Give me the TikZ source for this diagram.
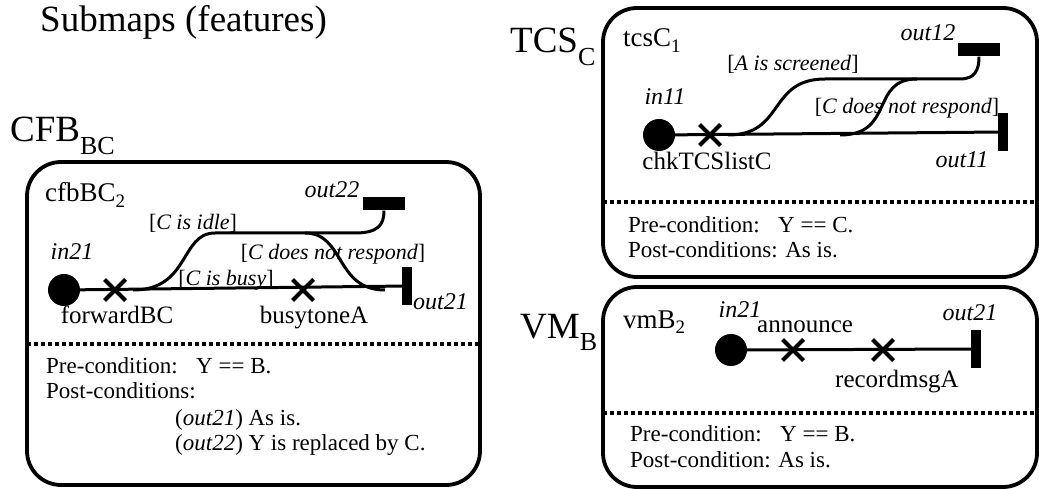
\documentclass[tikz,border=0pt]{standalone}
\usepackage{fontspec}
\setmainfont{Liberation Serif}
\usetikzlibrary{shapes.misc}
\newcommand{\bigsub}[1]{\raisebox{-0.33em}{\fontsize{26}{26}\selectfont #1}}
\newcommand{\namesub}[1]{\raisebox{-0.22em}{\fontsize{19}{19}\selectfont #1}}
\begin{document}
\begin{tikzpicture}[x=1pt,y=-1pt,
  box/.style={draw, line width=3.8pt, rounded corners=34pt},
  sepline/.style={line width=3.5pt, dash pattern=on 4pt off 3pt},
  wire/.style={line width=3pt},
  port/.style={circle, fill, inner sep=0pt, minimum size=32pt},
  xmark/.style={cross out, draw, line width=4pt, inner sep=0pt, minimum size=17pt},
  vbar/.style={fill, inner sep=0pt, minimum width=10pt, minimum height=38pt},
  hbar/.style={fill, inner sep=0pt, minimum width=42pt, minimum height=13pt},
  txt/.style={inner sep=0pt, font=\fontsize{23}{26}\selectfont},
  lbl/.style={inner sep=0pt, font=\fontsize{25}{28}\selectfont},
  plbl/.style={inner sep=0pt, font=\fontsize{24}{27}\selectfont\itshape},
  cond/.style={inner sep=0pt, font=\fontsize{22}{25}\selectfont},
  nm/.style={inner sep=0pt, font=\fontsize{27}{30}\selectfont},
  big/.style={inner sep=0pt, font=\fontsize{37}{40}\selectfont},
]
\useasboundingbox (0,0) rectangle (1039,489);

% title
\node[big, anchor=base west] (title) at (40,32) {Submaps (features)};

% ---------------- CFB ----------------
\node[big, anchor=base west] (cfbL) at (10,142) {CFB\bigsub{BC}};
\draw[box] (27,162) rectangle (480,485);
\draw[sepline] (27,344) -- (480,344);
\node[nm, anchor=base west] (cfbN) at (45,202) {cfbBC\namesub{2}};

\node[port] (in21) at (64,290) {};
\node[xmark] (fwd) at (115,290) {};
\node[xmark] (busy) at (303,290) {};
\node[vbar] (out21) at (407,286) {};
\node[hbar] (out22) at (384,204) {};
\coordinate (cb1) at (133,290);
\coordinate (cb2) at (385,290);
\coordinate (cj) at (305,233);
\draw[wire] (in21.center) -- (out21.center);
\draw[wire] (cb1) .. controls (190,290) and (180,233) .. (215,233) -- (cj)
  .. controls (345,233) and (335,290) .. (cb2);
\draw[wire] (cj) -- (355,233) .. controls (378,233) and (384,225) .. (out22.south);

\node[plbl, anchor=base] (lin21) at (72,260) {in21};
\node[plbl, anchor=base] (lout22) at (332,198) {out22};
\node[plbl, anchor=base west] (lout21) at (413,309) {out21};
\node[cond, anchor=base] (lidle) at (193,230) {[\textit{C is idle}]};
\node[cond, anchor=base] (lnr) at (333,259) {[\textit{C does not respond}]};
\node[cond, anchor=base] (lbusy) at (226,285) {[\textit{C is busy}]};
\node[lbl, anchor=base] (lfwd) at (117,323) {forwardBC};
\node[lbl, anchor=base] (lbt) at (314,323) {busytoneA};

\node[txt, anchor=base west] (cpre) at (46,373) {Pre-condition:\hspace{0.8em}Y == B.};
\node[txt, anchor=base west] (cpost) at (46,398) {Post-conditions:};
\node[txt, anchor=base west] (cp1) at (175,425) {(\textit{out21}) As is.};
\node[txt, anchor=base west] (cp2) at (175,450) {(\textit{out22}) Y is replaced by C.};

% ---------------- TCS ----------------
\node[big, anchor=base west] (tcsL) at (510,53) {TCS\bigsub{C}};
\draw[box] (603,8) rectangle (1037,277);
\draw[sepline] (603,202) -- (1037,202);
\node[nm, anchor=base west] (tcsN) at (623,47) {tcsC\namesub{1}};

\node[port] (in11) at (659,135) {};
\node[xmark] (chk) at (710,135) {};
\node[vbar] (out11) at (1003,132) {};
\node[hbar] (out12) at (979,50) {};
\coordinate (tb1) at (728,135);
\coordinate (tb2) at (840,135);
\coordinate (tj) at (917,79);
\draw[wire] (in11.center) -- (out11.center);
\draw[wire] (tb1) .. controls (785,135) and (768,79) .. (825,79) -- (960,79)
  .. controls (975,79) and (979,70) .. (out12.south);
\draw[wire] (tb2) .. controls (895,135) and (870,79) .. (tj);

\node[plbl, anchor=base] (lin11) at (665,105) {in11};
\node[plbl, anchor=base] (lout12) at (928,41) {out12};
\node[plbl, anchor=base] (lout11) at (962,168) {out11};
\node[cond, anchor=base] (lscr) at (793,71) {[\textit{A is screened}]};
\node[cond, anchor=base] (lnr2) at (907,114) {[\textit{C does not respond}]};
\node[lbl, anchor=base] (lchk) at (707,170) {chkTCSlistC};

\node[txt, anchor=base west] (tpre) at (628,233) {Pre-condition:\hspace{0.8em}Y == C.};
\node[txt, anchor=base west] (tpost) at (628,258) {Post-conditions: As is.};

% ---------------- VM ----------------
\node[big, anchor=base west] (vmL) at (520,338) {VM\bigsub{B}};
\draw[box] (603,287) rectangle (1037,487);
\draw[sepline] (603,413) -- (1037,413);
\node[nm, anchor=base west] (vmN) at (623,328) {vmB\namesub{2}};

\node[port] (vin21) at (731,350) {};
\node[xmark] (ann) at (793,350) {};
\node[xmark] (rec) at (883,350) {};
\node[vbar] (vout21) at (976,349) {};
\draw[wire] (vin21.center) -- (vout21.center);

\node[plbl, anchor=base] (lvin) at (740,317) {in21};
\node[lbl, anchor=base west] (lann) at (757,332) {announce};
\node[plbl, anchor=base] (lvout) at (970,320) {out21};
\node[lbl, anchor=base] (lrec) at (897,387) {recordmsgA};

\node[txt, anchor=base west] (vpre) at (630,441) {Pre-condition:\hspace{0.8em}Y == B.};
\node[txt, anchor=base west] (vpost) at (630,467) {Post-condition: As is.};
\end{tikzpicture}
\end{document}
